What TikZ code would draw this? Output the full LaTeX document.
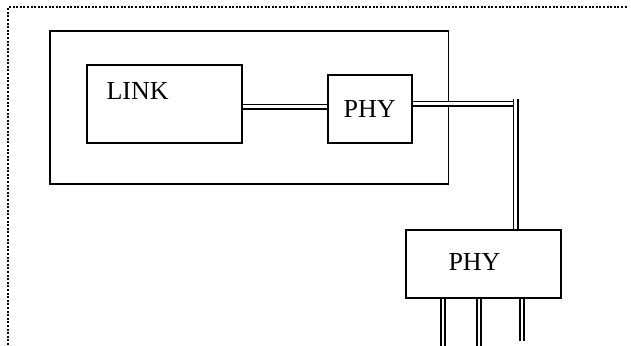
\documentclass[tikz,border=0pt]{standalone}
\usepackage{fontspec}
\setmainfont{Liberation Serif}

\tikzset{
  blk/.style={draw, line width=1.9pt, inner sep=0pt},
  dbl/.style={double, line width=1.8pt, double distance=2.4pt},
  lbl/.style={font=\fontsize{26}{31}\selectfont, inner sep=0pt}
}

\begin{document}
\begin{tikzpicture}[x=1pt, y=-1pt]
    \useasboundingbox (0,0) rectangle (631,345);
    % Dotted frame
    \draw[line width=2pt, dash pattern=on 2pt off 1.6pt] (8.3,345) -- (8.3,7.3) -- (628,7.3);
    % Host box
    \node[blk, minimum width=398.5pt, minimum height=152.4pt] (host) at (249.25,107.5) {};
    \node[blk, minimum width=154.7pt, minimum height=77.7pt] (link) at (164.7,104.2) {};
    \node[lbl, anchor=base] (linktxt) at ([xshift=51.2pt, yshift=-35.4pt]link.north west) {LINK};
    \node[blk, lbl, minimum width=84pt, minimum height=68.3pt] (phyA) at (369.7,108.85) {PHY};
    % Remote PHY
    \node[blk, minimum width=155pt, minimum height=68.6pt] (phyB) at (483.5,264) {};
    \node[lbl] (phyBtxt) at ([xshift=-9pt, yshift=2pt]phyB.center) {PHY};
    % Links
    \draw[dbl] ([yshift=-2.3pt]link.east) coordinate (l1) -- (l1 -| phyA.west);
    \coordinate (p1) at ([yshift=5.3pt]phyA.east);
    \coordinate (drop) at ([xshift=32pt]phyB.north);
    \draw[dbl] (p1) -- ([xshift=2pt]p1 -| drop);
    \draw[dbl] ([yshift=4.5pt]p1 -| drop) -- (drop);
    \foreach \dx/\len [count=\i] in {-40.8/47, -4.8/47, 38.5/42} {
        \coordinate (port\i) at ([xshift=\dx pt]phyB.south);
        \draw[dbl] (port\i) -- ++(0,\len);
    }
\end{tikzpicture}
\end{document}
